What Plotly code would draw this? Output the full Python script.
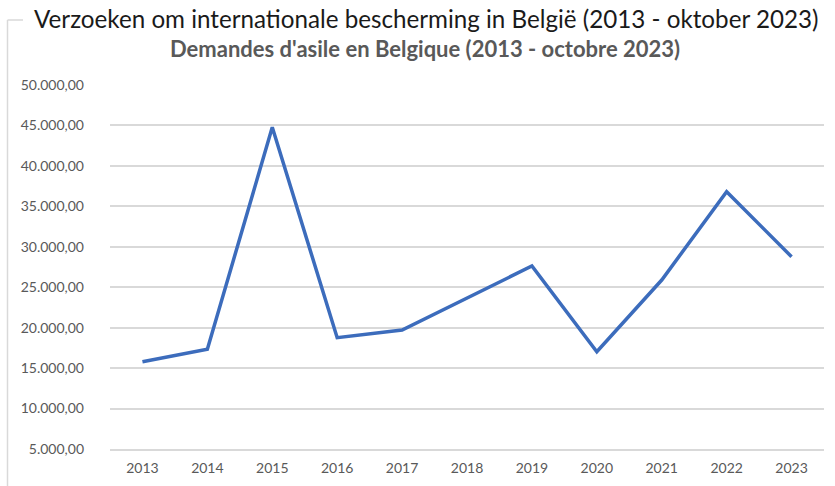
import plotly.graph_objects as go

years = ["2013", "2014", "2015", "2016", "2017", "2018", "2019", "2020", "2021", "2022", "2023"]
applications = [15790, 17330, 44770, 18760, 19710, 23670, 27620, 17030, 25890, 36810, 28770]
ytick_vals = [5000, 10000, 15000, 20000, 25000, 30000, 35000, 40000, 45000, 50000]
title_nl = "Verzoeken om internationale bescherming in België (2013 - oktober 2023)"
title_fr = "Demandes d'asile en Belgique (2013 - octobre 2023)"

# body margin is removed below, so figure pixels equal page pixels
W, H = 835, 486
L, R, T, B = 110, 11, 85, 37
PW, PH = W - L - R, H - T - B


def px(xpage):
    return (xpage - L) / PW


def py(ypage):
    return (H - B - ypage) / PH


fig = go.Figure()
fig.add_trace(go.Scatter(
    x=years, y=applications, mode="lines",
    line=dict(color="#3c6cbc", width=3.5),
    hoverinfo="x+y",
))

fig.update_layout(
    width=W, height=H,
    margin=dict(l=L, r=R, t=T, b=B, autoexpand=False),
    paper_bgcolor="white", plot_bgcolor="white",
    separators=",.",
    showlegend=False,
    xaxis=dict(
        type="category", range=[-0.5, len(years) - 0.5],
        showgrid=False, zeroline=False, automargin=False,
        showline=True, linecolor="#d9d9d9", linewidth=1.5,
        ticks="", tickfont=dict(family="Lato", size=14, color="#595959"),
        ticklabelstandoff=5,
    ),
    yaxis=dict(
        range=[5000, 50000], tickvals=ytick_vals, tickformat=",.2f",
        showgrid=True, gridcolor="#d9d9d9", gridwidth=1.5,
        zeroline=False, showline=False, ticks="", automargin=False,
        tickfont=dict(family="Lato", size=14, color="#595959"),
        ticklabelstandoff=25,
    ),
    annotations=[
        dict(text=title_nl, xref="paper", yref="paper", x=px(426), y=py(19),
             xanchor="center", yanchor="middle", showarrow=False,
             font=dict(family="Lato", size=24.2, color="#1a1a1a")),
        dict(text="<b>" + title_fr + "</b>", xref="paper", yref="paper", x=px(425), y=py(49),
             xanchor="center", yanchor="middle", showarrow=False,
             font=dict(family="Lato", size=22, color="#595959")),
    ],
    shapes=[
        dict(type="line", xref="paper", yref="paper", x0=px(7.5), x1=px(7.5),
             y0=py(20), y1=py(490), line=dict(color="#d9d9d9", width=1.5)),
        dict(type="line", xref="paper", yref="paper", x0=px(7.5), x1=px(23),
             y0=py(20), y1=py(20), line=dict(color="#d9d9d9", width=1.5)),
    ],
)

fig.write_html(
    "out.html",
    config={"displayModeBar": False},
    post_script="document.body.style.margin='0px';document.body.style.overflow='hidden';",
)
